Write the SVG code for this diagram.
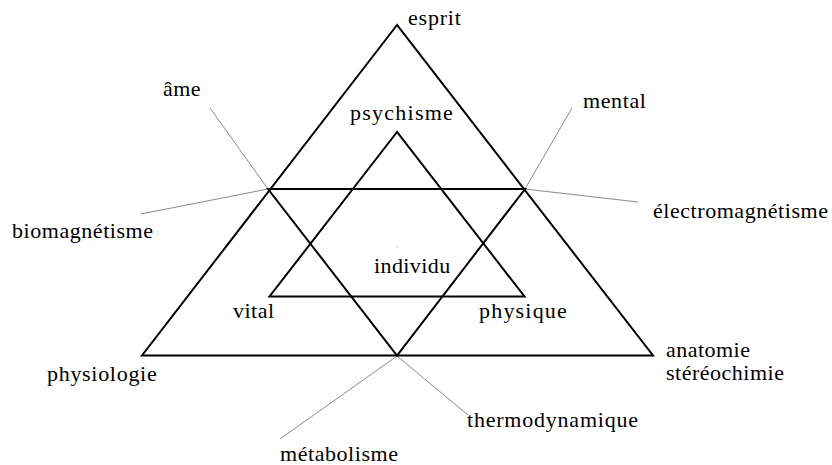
<svg xmlns="http://www.w3.org/2000/svg" width="832" height="465" viewBox="0 0 832 465">
<defs>
<polygon id="outerShape" points="397,25 142,355.5 653,355.5"/>
</defs>
<rect width="832" height="465" fill="#fff"/>
<g id="connectors" stroke="#8a8a8a" stroke-width="1" fill="none">
<line x1="210" y1="108" x2="268" y2="189"/>
<line x1="141" y1="214" x2="268" y2="189"/>
<line x1="572" y1="108" x2="525" y2="189"/>
<line x1="525" y1="189" x2="638" y2="202"/>
<line x1="397" y1="356" x2="280" y2="439"/>
<line x1="397" y1="356" x2="468" y2="415"/>
<rect x="396.5" y="246.5" width="1" height="1" fill="#999" stroke="none"/>
</g>
<g id="outer-triangle" fill="none" stroke="#000" stroke-width="2">
<polygon points="397,25 142,355.5 653,355.5"/>
</g>
<g id="inverted-triangle" fill="none" stroke="#000" stroke-width="2">
<polygon points="268,189 525,189 397,355.5"/>
</g>
<g id="inner-triangle" fill="none" stroke="#000" stroke-width="2">
<polygon points="397,132 269.5,296.5 524.5,296.5"/>
</g>
<g id="esprit"><text font-family="Liberation Serif" font-size="22" letter-spacing="0.8" x="408" y="25">esprit</text></g>
<g id="psychisme"><text font-family="Liberation Serif" font-size="22" letter-spacing="1.25" x="350" y="120">psychisme</text></g>
<g id="ame"><text font-family="Liberation Serif" font-size="22" letter-spacing="0.4" x="163" y="96">âme</text></g>
<g id="mental"><text font-family="Liberation Serif" font-size="22" letter-spacing="0.6" x="583" y="108">mental</text></g>
<g id="electromagnetisme"><text font-family="Liberation Serif" font-size="22" letter-spacing="0.55" x="653" y="218">électromagnétisme</text></g>
<g id="biomagnetisme"><text font-family="Liberation Serif" font-size="22" letter-spacing="0.55" x="12" y="238">biomagnétisme</text></g>
<g id="individu"><text font-family="Liberation Serif" font-size="22" letter-spacing="0.4" x="374" y="273">individu</text></g>
<g id="vital"><text font-family="Liberation Serif" font-size="22" letter-spacing="0.5" x="233" y="318">vital</text></g>
<g id="physique"><text font-family="Liberation Serif" font-size="22" letter-spacing="1.2" x="479" y="318">physique</text></g>
<g id="physiologie"><text font-family="Liberation Serif" font-size="22" letter-spacing="0.7" x="47" y="381">physiologie</text></g>
<g id="anatomie"><text font-family="Liberation Serif" font-size="22" letter-spacing="0.47" x="666" y="357">anatomie</text><text font-family="Liberation Serif" font-size="22" letter-spacing="0.5" x="666" y="380">stéréochimie</text></g>
<g id="thermodynamique"><text font-family="Liberation Serif" font-size="22" letter-spacing="0.78" x="467" y="427">thermodynamique</text></g>
<g id="metabolisme"><text font-family="Liberation Serif" font-size="22" letter-spacing="0.56" x="280" y="461">métabolisme</text></g>
</svg>
